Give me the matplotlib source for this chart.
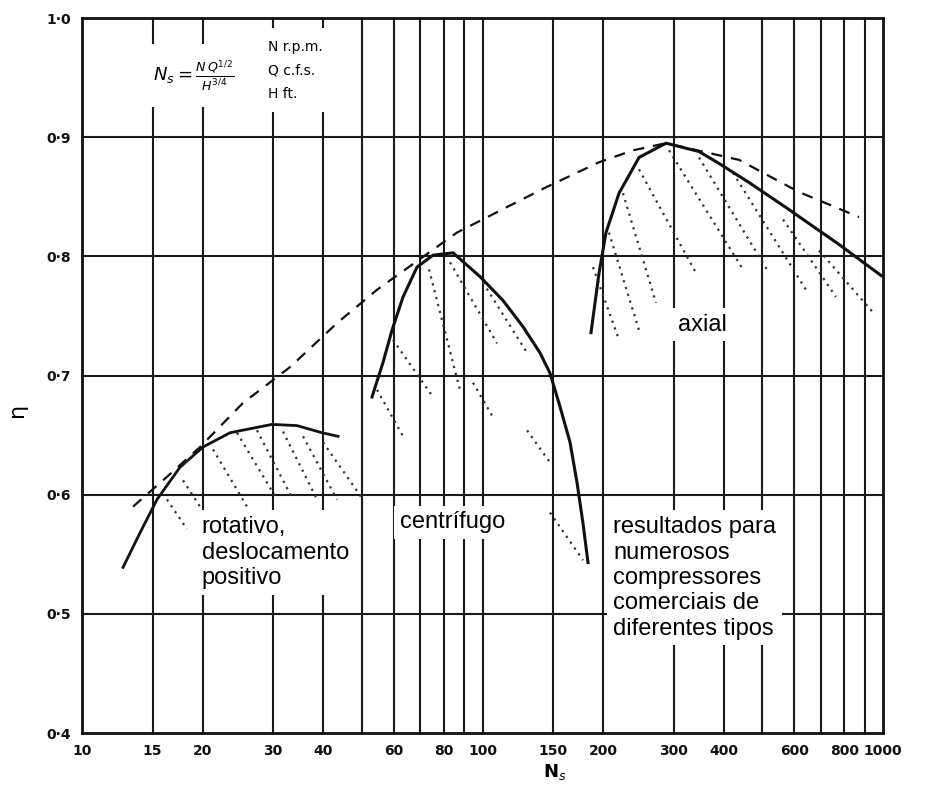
import numpy as np
import matplotlib.pyplot as plt

# --- data ---
# rotary (positive displacement) efficiency curve
rot_ns = [12.66, 13.96, 15.39, 17.56, 20.05, 23.42, 29.81, 34.42, 39.75, 43.58]
rot_eta = [0.539, 0.568, 0.596, 0.623, 0.640, 0.652, 0.659, 0.658, 0.652, 0.649]

# centrifugal curve
cen_ns = [52.98, 56.44, 59.43, 63.33, 68.62, 75.23, 84.41, 98.58, 112.5,
          126.2, 139.2, 147.4, 156.1, 165.4, 172.2, 178.2, 183.4]
cen_eta = [0.682, 0.711, 0.738, 0.766, 0.791, 0.801, 0.803, 0.783, 0.763,
           0.741, 0.719, 0.702, 0.674, 0.644, 0.610, 0.576, 0.543]

# axial curve
axi_ns = [186.6, 195.4, 203.4, 219.2, 245.9, 287.2, 347.2, 389.5, 462.9,
          572.5, 776.6, 988.5]
axi_eta = [0.736, 0.786, 0.820, 0.853, 0.883, 0.895, 0.888, 0.878, 0.862,
           0.841, 0.810, 0.784]

# dashed envelope of best efficiencies
env_ns = [13.41, 16.30, 19.71, 25.23, 33.05, 43.32, 54.53, 86.36, 114.5,
          144.1, 195.4, 237.6, 287.2, 436.9, 617.0, 871.3]
env_eta = [0.590, 0.615, 0.640, 0.677, 0.707, 0.744, 0.772, 0.820, 0.841,
           0.858, 0.879, 0.889, 0.895, 0.881, 0.854, 0.833]

# dotted hatch segments showing the scatter of results: (ns0, eta0, ns1, eta1)
rot_hatch = [(16.30, 0.596, 18.29, 0.571), (17.87, 0.612, 19.71, 0.590),
             (21.24, 0.638, 25.82, 0.590), (24.38, 0.652, 30.69, 0.596),
             (27.35, 0.654, 33.63, 0.596), (31.76, 0.653, 38.63, 0.596),
             (35.63, 0.649, 43.32, 0.596), (39.97, 0.644, 50.30, 0.596)]
cen_hatch = [(54.53, 0.688, 63.33, 0.649), (59.77, 0.730, 75.23, 0.682),
             (73.52, 0.789, 87.84, 0.688), (82.96, 0.795, 108.7, 0.727),
             (100.3, 0.778, 129.2, 0.719), (94.69, 0.694, 106.2, 0.665),
             (129.2, 0.654, 147.4, 0.627), (147.4, 0.585, 178.2, 0.545)]
axi_hatch = [(188.7, 0.791, 219.2, 0.730), (206.9, 0.820, 245.9, 0.738),
             (224.2, 0.853, 271.2, 0.761), (245.9, 0.873, 341.3, 0.786),
             (292.2, 0.889, 447.1, 0.789), (347.2, 0.883, 519.2, 0.786),
             (422.2, 0.870, 642.1, 0.772), (562.9, 0.831, 763.2, 0.766),
             (692.1, 0.805, 944.1, 0.753)]

x_ticks = [10, 15, 20, 30, 40, 60, 80, 100, 150, 200, 300, 400, 600, 800, 1000]
x_grid = [15, 20, 30, 40, 50, 60, 70, 80, 90, 100, 150, 200, 300, 400, 500,
          600, 700, 800, 900]
y_ticks = [0.4, 0.5, 0.6, 0.7, 0.8, 0.9, 1.0]
y_labels = ['0·4', '0·5', '0·6', '0·7', '0·8', '0·9', '1·0']

txt_font = ['Liberation Sans Narrow', 'Liberation Sans', 'DejaVu Sans']

fig = plt.figure(figsize=(9.36, 7.85), dpi=100)
ax = fig.add_axes([0.0876, 0.0662, 0.8558, 0.9108])
ax.set_xscale('log')
ax.set_xlim(10, 1000)
ax.set_ylim(0.4, 1.0)

# grid of the original chart paper
for g in x_grid:
    ax.axvline(g, color='#1a1a1a', lw=1.5, zorder=1)
for g in y_ticks[1:-1]:
    ax.axhline(g, color='#1a1a1a', lw=1.5, zorder=1)

for s in ax.spines.values():
    s.set_linewidth(2)
    s.set_color('#111111')
    s.set_zorder(4)

ax.set_xticks(x_ticks)
ax.set_xticklabels([str(t) for t in x_ticks])
ax.xaxis.set_minor_locator(plt.NullLocator())
ax.set_yticks(y_ticks)
ax.set_yticklabels(y_labels)
ax.tick_params(length=0, labelsize=10, colors='#111111', pad=8)
for lab in ax.get_xticklabels() + ax.get_yticklabels():
    lab.set_fontweight('bold')

# hatching
for segs in (rot_hatch, cen_hatch, axi_hatch):
    for x0, y0, x1, y1 in segs:
        ax.plot([x0, x1], [y0, y1], color='#333333', lw=1.6,
                ls=(0, (1, 2.2)), zorder=3)

# curves
ax.plot(env_ns, env_eta, color='#111111', lw=1.6, ls=(0, (5, 4)), zorder=3)
ax.plot(rot_ns, rot_eta, color='#111111', lw=2.0, zorder=3)
ax.plot(cen_ns, cen_eta, color='#111111', lw=2.2, zorder=3)
ax.plot(axi_ns, axi_eta, color='#111111', lw=2.2, zorder=3)

box = dict(facecolor='white', edgecolor='none', pad=4)

ax.text(19.9, 0.582, 'rotativo,\ndeslocamento\npositivo', ha='left', va='top',
        fontsize=17, linespacing=1.2, family=txt_font, bbox=box, zorder=2)
ax.text(62.2, 0.586, 'centrífugo', ha='left', va='top',
        fontsize=17, family=txt_font, bbox=box, zorder=2)
ax.text(211.7, 0.582,
        'resultados para\nnumerosos\ncompressores\ncomerciais de\ndiferentes tipos',
        ha='left', va='top', fontsize=17, linespacing=1.2, family=txt_font,
        bbox=box, zorder=2)
ax.text(307.6, 0.752, 'axial', ha='left', va='top', fontsize=17,
        family=txt_font, bbox=box, zorder=2)

ax.text(15.0, 0.952, r'$N_s=\frac{N\,Q^{1/2}}{H^{3/4}}$', ha='left', va='center',
        fontsize=13, bbox=dict(facecolor='white', edgecolor='none', pad=10),
        zorder=2)
ax.text(29.1, 0.982, 'N r.p.m.\nQ c.f.s.\nH ft.', ha='left', va='top',
        fontsize=10, linespacing=1.9,
        bbox=dict(facecolor='white', edgecolor='none', pad=8), zorder=2)

# axis titles placed like the scan (eta at far left, Ns off-centre at bottom)
fig.text(0.018, 0.478, 'η', fontsize=16, rotation=90, ha='center', va='center')
fig.text(0.593, 0.016, r'N$_s$', fontsize=13, fontweight='bold',
         ha='center', va='center')

fig.savefig('out.png', dpi=100)
